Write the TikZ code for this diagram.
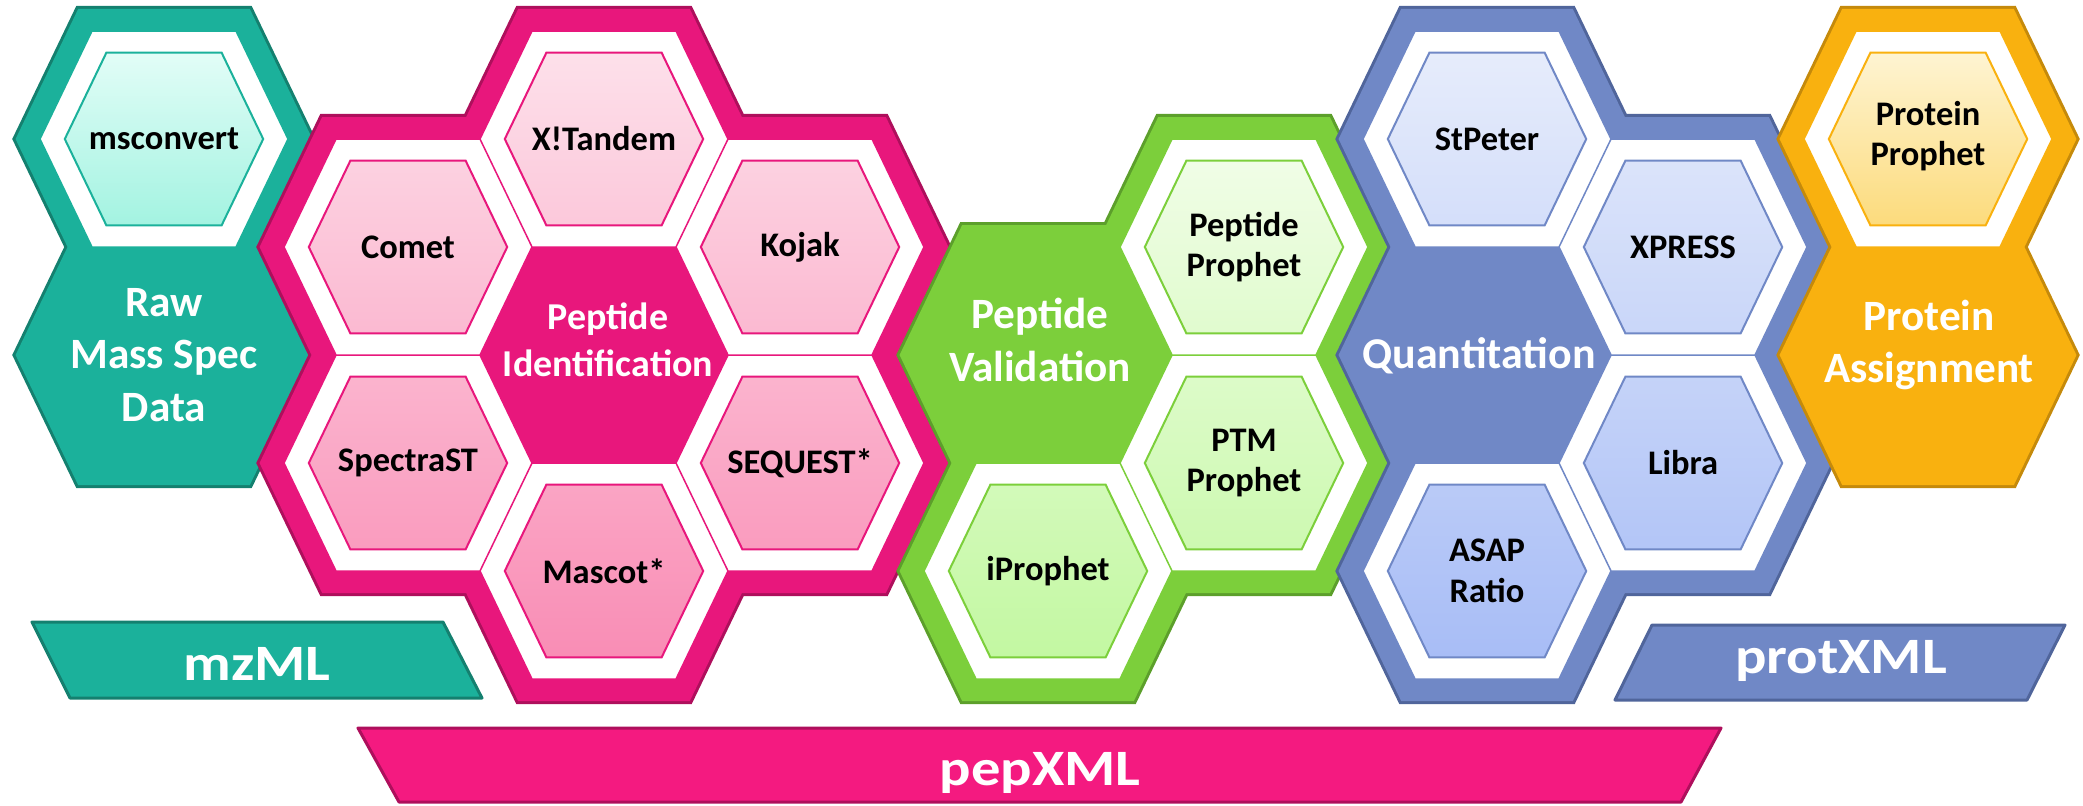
\documentclass[tikz,border=0pt]{standalone}
\usepackage{fontspec}
\setmainfont{Carlito}
\usepackage{graphicx}
\usetikzlibrary{
  calc                   % coordinate math
}

\definecolor{tealmain}{HTML}{1BB19B}
\definecolor{tealdark}{HTML}{14806F}
\definecolor{teallight}{HTML}{E2FDF7}
\definecolor{tealmid}{HTML}{A3F3E1}
\definecolor{pinkmain}{HTML}{E8177C}
\definecolor{pinkdark}{HTML}{AE0F5C}
\definecolor{pinklight}{HTML}{FDE0EA}
\definecolor{pinkmid}{HTML}{F98DB5}
\definecolor{pinkbar}{HTML}{F41A80}
\definecolor{greenmain}{HTML}{7CCF3B}
\definecolor{greendark}{HTML}{5C9F2B}
\definecolor{greenlight}{HTML}{F0FDE6}
\definecolor{greenmid}{HTML}{C3F8A2}
\definecolor{bluemain}{HTML}{7088C6}
\definecolor{bluedark}{HTML}{50659B}
\definecolor{bluelight}{HTML}{E6ECFB}
\definecolor{bluemid}{HTML}{A8BDF6}
\definecolor{orangemain}{HTML}{F9B10F}
\definecolor{orangedark}{HTML}{C58A0B}
\definecolor{orangelight}{HTML}{FEF4D2}
\definecolor{orangemid}{HTML}{FCDB7C}

% hexagon cell: #1,#2 = centre, #3 = size factor
\newcommand{\hexcell}[3]{(#1-124*#3,#2) -- (#1-72*#3,#2-108*#3) -- (#1+72*#3,#2-108*#3) -- (#1+124*#3,#2) -- (#1+72*#3,#2+108*#3) -- (#1-72*#3,#2+108*#3) -- cycle}

\tikzset{
  groupedge/.style={draw=#1, line width=5mm, line join=miter},
  groupbody/.style={draw=#1, fill=#1, line width=4.4mm, line join=miter},
  slot/.style={draw=#1, fill=white, line width=0.15mm},
  toolhex/.style n args={3}{draw=#1, line width=0.2mm, top color=#2, bottom color=#3},
  bar/.style n args={2}{draw=#1, fill=#2, line width=0.3mm, line join=round},
  tooltext/.style={font=\fontsize{9.8}{11.5}\selectfont\bfseries, align=center, text=black},
  titletext/.style={font=\fontsize{12.3}{15}\selectfont\bfseries, align=center, text=white},
  bartext/.style={font=\fontsize{14.5}{16}\selectfont\bfseries, text=white}
}

\begin{document}
\begin{tikzpicture}[x=0.01cm, y=-0.01cm]
  \useasboundingbox (0,0) rectangle (2083,805);

  \draw[groupedge=tealdark] \hexcell{164}{139}{1} \hexcell{164}{355}{1};
  \draw[groupbody=tealmain] \hexcell{164}{139}{1} \hexcell{164}{355}{1};
  \draw[slot=tealmain] \hexcell{164}{139}{1};
  \draw[toolhex={tealmain}{teallight}{tealmid}] \hexcell{164}{139}{0.8};
  \node[tooltext] (msconvert) at (164,139) {msconvert};
  \node[titletext] (rawdata) at (164,355) {Raw\\Mass Spec\\Data};

  \draw[groupedge=pinkdark] \hexcell{408}{247}{1} \hexcell{408}{463}{1} \hexcell{604}{139}{1} \hexcell{604}{355}{1} \hexcell{604}{571}{1} \hexcell{800}{247}{1} \hexcell{800}{463}{1};
  \draw[groupbody=pinkmain] \hexcell{408}{247}{1} \hexcell{408}{463}{1} \hexcell{604}{139}{1} \hexcell{604}{355}{1} \hexcell{604}{571}{1} \hexcell{800}{247}{1} \hexcell{800}{463}{1};
  \draw[slot=pinkmain] \hexcell{408}{247}{1} \hexcell{408}{463}{1} \hexcell{604}{139}{1} \hexcell{604}{571}{1} \hexcell{800}{247}{1} \hexcell{800}{463}{1};
  \draw[toolhex={pinkmain}{pinklight}{pinkmid}] \hexcell{408}{247}{0.8} \hexcell{408}{463}{0.8} \hexcell{604}{139}{0.8} \hexcell{604}{571}{0.8} \hexcell{800}{247}{0.8} \hexcell{800}{463}{0.8};
  \node[tooltext] (comet) at (408,247) {Comet};
  \node[tooltext] (spectrast) at (408,463) {SpectraST};
  \node[tooltext] (xtandem) at (604,139) {X!Tandem};
  \node[tooltext] (mascot) at (604,571) {Mascot*};
  \node[tooltext] (kojak) at (800,247) {Kojak};
  \node[tooltext] (sequest) at (800,463) {SEQUEST*};
  \node[titletext, font=\fontsize{10.8}{13.4}\selectfont\bfseries] (pepid) at (608,340) {Peptide\\Identification};

  \draw[groupedge=greendark] \hexcell{1048}{355}{1} \hexcell{1048}{571}{1} \hexcell{1244}{247}{1} \hexcell{1244}{463}{1};
  \draw[groupbody=greenmain] \hexcell{1048}{355}{1} \hexcell{1048}{571}{1} \hexcell{1244}{247}{1} \hexcell{1244}{463}{1};
  \draw[slot=greenmain] \hexcell{1048}{571}{1} \hexcell{1244}{247}{1} \hexcell{1244}{463}{1};
  \draw[toolhex={greenmain}{greenlight}{greenmid}] \hexcell{1048}{571}{0.8} \hexcell{1244}{247}{0.8} \hexcell{1244}{463}{0.8};
  \node[tooltext] (iprophet) at (1048,571) {iProphet};
  \node[tooltext] (pepprophet) at (1244,247) {Peptide\\Prophet};
  \node[tooltext] (ptmprophet) at (1244,463) {PTM\\Prophet};
  \node[titletext] (pepval) at (1040,340) {Peptide\\Validation};

  \draw[groupedge=bluedark] \hexcell{1487}{139}{1} \hexcell{1487}{355}{1} \hexcell{1487}{571}{1} \hexcell{1683}{247}{1} \hexcell{1683}{463}{1};
  \draw[groupbody=bluemain] \hexcell{1487}{139}{1} \hexcell{1487}{355}{1} \hexcell{1487}{571}{1} \hexcell{1683}{247}{1} \hexcell{1683}{463}{1};
  \draw[slot=bluemain] \hexcell{1487}{139}{1} \hexcell{1487}{571}{1} \hexcell{1683}{247}{1} \hexcell{1683}{463}{1};
  \draw[toolhex={bluemain}{bluelight}{bluemid}] \hexcell{1487}{139}{0.8} \hexcell{1487}{571}{0.8} \hexcell{1683}{247}{0.8} \hexcell{1683}{463}{0.8};
  \node[tooltext] (stpeter) at (1487,139) {StPeter};
  \node[tooltext] (asap) at (1487,571) {ASAP\\Ratio};
  \node[tooltext] (xpress) at (1683,247) {XPRESS};
  \node[tooltext] (libra) at (1683,463) {Libra};
  \node[titletext, font=\fontsize{12.5}{15}\selectfont\bfseries] (quant) at (1479,356) {Quantitation};

  \draw[groupedge=orangedark] \hexcell{1928}{139}{1} \hexcell{1928}{355}{1};
  \draw[groupbody=orangemain] \hexcell{1928}{139}{1} \hexcell{1928}{355}{1};
  \draw[slot=orangemain] \hexcell{1928}{139}{1};
  \draw[toolhex={orangemain}{orangelight}{orangemid}] \hexcell{1928}{139}{0.8};
  \node[tooltext] (protprophet) at (1928,136) {Protein\\Prophet};
  \node[titletext] (protassign) at (1929,345) {Protein\\Assignment};

  \draw[bar={tealdark}{tealmain}] (32,622) -- (443,622) -- (482,698) -- (70,698) -- cycle;
  \node[bartext] (mzml) at (257,664) {\scalebox{1.15}[1]{mzML}};
  \draw[bar={pinkdark}{pinkbar}] (358,728) -- (1721,728) -- (1681,802) -- (399,802) -- cycle;
  \node[bartext] (pepxml) at (1040,773) {\scalebox{1.15}[1]{pepXML}};
  \draw[bar={bluedark}{bluemain}] (1652,625) -- (2065,625) -- (2027,700) -- (1615,700) -- cycle;
  \node[bartext] (protxml) at (1841,661) {\scalebox{1.15}[1]{protXML}};
\end{tikzpicture}
\end{document}
